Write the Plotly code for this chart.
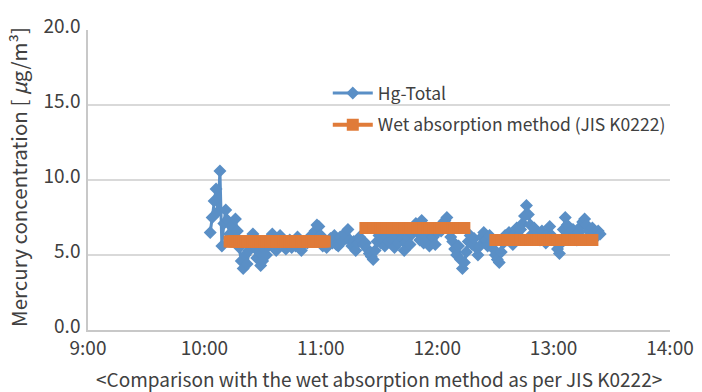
import pandas as pd
import plotly.graph_objects as go

# Hg-Total, 1-minute readings starting 10:03
hg_start = "2020-01-01 10:03"
hg_values = [
    6.5, 7.5, 8.6, 9.4, 7.9, 10.6, 5.6, 7.1, 8.0, 7.3,
    6.4, 6.9, 6.0, 7.4, 6.6, 5.5, 4.6, 4.1, 5.0, 4.4,
    5.3, 6.1, 6.4, 5.6, 4.8, 5.2, 4.3, 4.6, 5.4, 5.0,
    5.6, 6.2, 6.4, 5.9, 5.3, 5.8, 6.3, 6.1, 5.7, 5.4,
    5.8, 6.0, 5.5, 5.9, 5.6, 6.2, 5.8, 5.3, 5.7, 5.9,
    5.8, 6.0, 6.3, 6.0, 6.6, 7.0, 6.9, 6.3, 5.6, 5.9,
    5.5, 5.9, 6.1, 5.8, 6.3, 5.7, 5.6, 6.2, 5.9, 6.4,
    6.1, 6.7, 6.0, 5.6, 5.9, 5.3, 5.8, 6.2, 6.0, 5.7,
    5.8, 5.4, 5.1, 4.9, 4.7, 5.3, 5.9, 6.3, 5.8, 6.1,
    5.6, 6.2, 5.9, 6.4, 6.0, 5.5, 6.3, 5.8, 6.5, 6.1,
    5.3, 5.9, 6.2, 5.7, 6.4, 6.9, 7.1, 6.5, 6.0, 7.3,
    5.8, 6.3, 6.0, 5.6, 6.4, 6.2, 5.7, 6.5, 6.9, 6.6,
    6.8, 7.3, 7.5, 6.9, 6.2, 5.9, 5.4, 5.0, 5.6, 4.7,
    4.1, 4.5, 5.2, 5.9, 6.3, 5.7, 6.1, 5.5, 5.0, 5.6,
    6.2, 6.5, 6.0, 5.6, 6.3, 5.8, 5.4, 5.0, 4.7, 4.5,
    5.2, 5.8, 6.3, 6.0, 6.5, 6.2, 5.7, 6.4, 6.8, 6.3,
    6.7, 7.1, 7.6, 8.3, 7.7, 7.0, 6.4, 6.8, 6.1, 6.5,
    6.0, 6.6, 6.2, 5.8, 6.4, 6.9, 6.3, 6.0, 5.9, 5.4,
    5.1, 5.8, 6.7, 7.5, 7.0, 6.5, 6.1, 6.7, 6.3, 6.0,
    6.5, 6.9, 7.2, 7.4, 7.0, 6.6, 6.3, 6.8, 6.5, 6.2,
    6.6, 6.4,
]

# Wet absorption method (JIS K0222) sampling periods
wet_start = ["10:13", "11:23", "12:30"]
wet_end = ["11:02", "12:14", "13:20"]
wet_values = [5.9, 6.8, 6.0]

y_ticks = [0, 5, 10, 15, 20]
x_ticks = ["09:00", "10:00", "11:00", "12:00", "13:00", "14:00"]

y_title = "Mercury concentration [ <i>μ</i>g/m³]"
x_title = "&lt;Comparison with the wet absorption method as per JIS K0222&gt;"

DAY = "2020-01-01 "
hg_times = pd.date_range(hg_start, periods=len(hg_values), freq="1min")

BLUE = "#5a8fc6"
ORANGE = "#e07b39"
TXT = "#404040"
FONT = "Noto Sans CJK JP, Noto Sans, sans-serif"

fig = go.Figure()
fig.add_trace(go.Scatter(
    x=hg_times, y=hg_values, mode="lines+markers", name="Hg-Total",
    legendgroup="hg",
    line=dict(color=BLUE, width=3),
    marker=dict(symbol="diamond", size=10, color=BLUE),
))

for i, (s, e, v) in enumerate(zip(wet_start, wet_end, wet_values)):
    t = pd.date_range(DAY + s, DAY + e, freq="1min")
    fig.add_trace(go.Scatter(
        x=t, y=[v] * len(t), mode="lines+markers",
        name="Wet absorption method (JIS K0222)",
        showlegend=(i == 0), legendgroup="wet",
        line=dict(color=ORANGE, width=4),
        marker=dict(symbol="square", size=12, color=ORANGE),
    ))

fig.update_layout(
    width=702, height=392,
    margin=dict(l=88, r=32, t=30, b=62),
    paper_bgcolor="white", plot_bgcolor="white",
    font=dict(family=FONT, color=TXT, size=19),
    legend=dict(x=0.412, y=0.85, xanchor="left", yanchor="top",
                bgcolor="rgba(0,0,0,0)", font=dict(size=17.5, color=TXT),
                traceorder="grouped", tracegroupgap=6, itemwidth=40),
    annotations=[
        dict(text=y_title, textangle=-90, xref="paper", yref="paper",
             x=(18 - 88) / 582, y=0.51, xanchor="center", yanchor="middle",
             showarrow=False, font=dict(size=20.5, color=TXT)),
        dict(text=x_title, xref="paper", yref="paper",
             x=0.5, y=-48 / 300, xanchor="center", yanchor="middle",
             showarrow=False, font=dict(size=19, color=TXT)),
    ],
)
fig.update_xaxes(
    type="date", automargin=False,
    range=[DAY + x_ticks[0], DAY + x_ticks[-1]],
    tickvals=[DAY + t for t in x_ticks],
    tickformat="%-H:%M",
    showgrid=False, showline=True, linecolor="#c8c8c8", linewidth=1.5,
    ticks="", tickfont=dict(size=19),
)
fig.update_yaxes(
    range=[0, 20], tickvals=y_ticks, tickformat=".1f", automargin=False,
    showgrid=True, gridcolor="#d9d9d9", gridwidth=1.5,
    showline=True, linecolor="#c8c8c8", linewidth=1.5,
    zeroline=False, ticks="", tickfont=dict(size=19),
    ticklabelshift=-4, ticklabelstandoff=2,
)

fig.write_html("out.html", config={"displayModeBar": False},
               post_script="document.body.style.margin='0';document.body.style.overflow='hidden';")
